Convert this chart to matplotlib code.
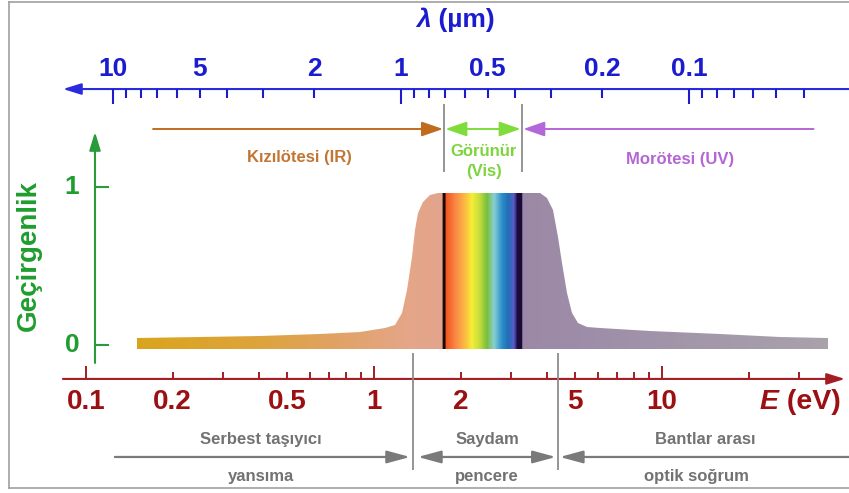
"""
Geçirgenlik - foton enerjisi şeması (E ve lambda eksenli)
"""

import numpy as np
import matplotlib.pyplot as plt
from matplotlib.patches import FancyArrowPatch, Polygon
from matplotlib.colors import ListedColormap, to_rgb
from matplotlib.lines import Line2D

plt.rcParams['font.family'] = ['Liberation Sans', 'DejaVu Sans']
plt.rcParams['font.weight'] = 'bold'

HC = 1.24  # eV * um

# transmittance curve
energy = [0.150, 0.249, 0.402, 0.649, 0.894, 1.092, 1.183, 1.251, 1.302, 1.355,
          1.388, 1.422, 1.480, 1.565, 1.668, 3.770, 3.988, 4.183, 4.354, 4.496,
          4.679, 4.870, 5.109, 5.491, 6.091, 9.085, 15.90, 25.69, 37.70]
transmit = [0.044, 0.051, 0.057, 0.070, 0.082, 0.108, 0.127, 0.203, 0.348, 0.557,
            0.728, 0.835, 0.905, 0.949, 0.962, 0.962, 0.930, 0.854, 0.684, 0.519,
            0.329, 0.203, 0.139, 0.114, 0.108, 0.089, 0.070, 0.051, 0.044]
fill_floor = -0.025

# fill colours along the energy axis
stop_energy = [0.150, 0.40, 0.70, 1.10, 1.30, 1.722, 1.736, 1.764, 1.78, 1.927,
               2.087, 2.189, 2.334, 2.469, 2.61, 2.783, 2.92, 3.063, 3.15, 3.266,
               3.29, 6.09, 37.7]
stop_colors = ['#d9a41c', '#dda33c', '#e0a260', '#e3a47e', '#e4a588', '#e2a48c',
               '#1a0a05', '#1a0a05', '#f25520', '#fa8a45', '#fcc040', '#f5ee35',
               '#c0dc3c', '#78be3c', '#88d0d0', '#2d8ecb', '#1e6fb5', '#5a5ac8',
               '#1a0a3a', '#1a0a3a', '#9b88a6', '#9e8ea8', '#a8a2ab']

# bottom axis, E (eV)
e_labels = [0.1, 0.2, 0.5, 1, 2, 5, 10]
e_major = [0.1, 1, 10]
e_minor = [0.2, 0.3, 0.4, 0.5, 0.6, 0.7, 0.8, 0.9,
           2, 3, 4, 5, 6, 7, 8, 9, 20, 30]

# top axis, lambda (um)
lam_labels = [10, 5, 2, 1, 0.5, 0.2, 0.1]
lam_major = [10, 1, 0.1]
lam_minor = [9, 8, 7, 6, 5, 4, 3, 2,
             0.9, 0.8, 0.7, 0.6, 0.5, 0.4, 0.3, 0.2,
             0.09, 0.08, 0.07, 0.06, 0.05, 0.04]

vis_edges = [1.75, 3.26]       # eV
regime_edges = [1.366, 4.35]   # eV

BLUE = '#1c1ccf'
RED = '#9c0f12'
GREEN = '#1f9d2e'
GRAY = '#727272'


def arrow(ax, p0, p1, color, style='-|>', hl=12, hw=4.5, lw=1.6):
    ax.add_patch(FancyArrowPatch(p0, p1, arrowstyle=f'{style},head_length={hl},head_width={hw}',
                                 color=color, lw=lw, mutation_scale=1,
                                 shrinkA=0, shrinkB=0, clip_on=False))


fig = plt.figure(figsize=(8.49, 4.93), dpi=100)
ax = fig.add_axes([0, 0, 1, 1])
ax.set_xscale('log')
ax.set_xlim(0.0503, 44.6)
ax.set_ylim(-0.937, 2.1835)
ax.axis('off')

# gradient filled transmittance curve
outline = Polygon(list(zip(energy, transmit)) + [(energy[-1], fill_floor), (energy[0], fill_floor)],
                  closed=True, facecolor='none', edgecolor='none', transform=ax.transData)
ax.add_patch(outline)
xe = np.geomspace(energy[0], energy[-1], 1800)
xc = np.sqrt(xe[:-1] * xe[1:])
rgb = np.array([to_rgb(c) for c in stop_colors])
cols = np.stack([np.interp(np.log10(xc), np.log10(stop_energy), rgb[:, k]) for k in range(3)], axis=-1)
mesh = ax.pcolormesh(xe, [fill_floor, 1.0], np.arange(len(xc))[np.newaxis, :],
                     cmap=ListedColormap(cols), vmin=-0.5, vmax=len(xc) - 0.5, shading='flat')
mesh.set_clip_path(outline)

# top lambda axis
lam_y = 1.62
arrow(ax, (44.6, lam_y), (0.0832, lam_y), '#2a2ade', hl=11, hw=3.4, lw=1.5)
ax.vlines([HC / l for l in lam_major], lam_y - 0.095, lam_y, color=BLUE, lw=1.5)
ax.vlines([HC / l for l in lam_minor], lam_y - 0.057, lam_y, color=BLUE, lw=1.5)
for l in lam_labels:
    ax.text(HC / l, 1.747, f'{l:g}', color=BLUE, fontsize=19, ha='center', va='center')
ax.text(1.577, 2.06, 'λ', color=BLUE, fontsize=19, style='italic', ha='right', va='center')
ax.text(1.577, 2.06, ' (µm)', color=BLUE, fontsize=19, ha='left', va='center')

# spectral regions
ax.vlines(vis_edges, 1.095, 1.525, color='#8c8c8c', lw=1.3)
arrow(ax, (0.171, 1.367), (1.736, 1.367), '#c06c1e', hl=13, hw=4.5, lw=1.4)
arrow(ax, (1.77, 1.367), (3.23, 1.367), '#7fdc3a', style='<|-|>', hl=13, hw=4.5, lw=1.4)
arrow(ax, (33.6, 1.367), (3.30, 1.367), '#b467d8', hl=13, hw=4.5, lw=1.4)
ax.text(0.553, 1.184, 'Kızılötesi (IR)', color='#c27634', fontsize=12, ha='center', va='center')
ax.text(2.41, 1.161, 'Görünür\n(Vis)', color='#7dd43e', fontsize=12, ha='center', va='center',
        linespacing=1.38)
ax.text(11.55, 1.171, 'Morötesi (UV)', color='#b466d4', fontsize=12, ha='center', va='center')

# transmittance axis
arrow(ax, (0.1075, -0.114), (0.1075, 1.348), '#2a9a3a', hl=11, hw=3.4, lw=1.5)
for t in [0, 1]:
    ax.plot([0.1075, 0.1193], [t, t], color='#2a9a3a', lw=1.5)
    ax.text(0.0894, t, str(t), color=GREEN, fontsize=19, ha='center', va='center')
ax.text(0.0634, 0.566, 'Geçirgenlik', color=GREEN, fontsize=20, rotation=90,
        ha='center', va='center')

# bottom E axis
e_y = -0.215
arrow(ax, (0.0832, e_y), (43.2, e_y), '#a31d22', hl=11, hw=3.4, lw=1.5)
ax.vlines(e_major, e_y, e_y + 0.082, color='#a31d22', lw=1.4)
ax.vlines(e_minor, e_y, e_y + 0.044, color='#a31d22', lw=1.4)
for e in e_labels:
    ax.text(e, -0.361, f'{e:g}', color=RED, fontsize=20, ha='center', va='center')
ax.text(25.48, -0.361, 'E', color=RED, fontsize=20.5, style='italic', ha='right', va='center')
ax.text(25.48, -0.361, ' (eV)', color=RED, fontsize=20.5, ha='left', va='center')

# optical regimes
ax.vlines(regime_edges, -0.791, -0.051, color='#8c8c8c', lw=1.3)
arrow(ax, (0.126, -0.709), (1.334, -0.709), '#7a7a7a', hl=14, hw=3.8, lw=1.6)
arrow(ax, (1.421, -0.709), (4.28, -0.709), '#7a7a7a', style='<|-|>', hl=14, hw=3.8, lw=1.6)
arrow(ax, (44.6, -0.709), (4.42, -0.709), '#7a7a7a', hl=14, hw=3.8, lw=1.6)
ax.text(0.405, -0.601, 'Serbest taşıyıcı', color=GRAY, fontsize=12, ha='center', va='center')
ax.text(0.405, -0.835, 'yansıma', color=GRAY, fontsize=12, ha='center', va='center')
ax.text(2.47, -0.601, 'Saydam', color=GRAY, fontsize=12, ha='center', va='center')
ax.text(2.47, -0.835, 'pencere', color=GRAY, fontsize=12, ha='center', va='center')
ax.text(14.1, -0.601, 'Bantlar arası', color=GRAY, fontsize=12, ha='center', va='center')
ax.text(13.2, -0.835, 'optik soğrum', color=GRAY, fontsize=12, ha='center', va='center')

# picture frame
for xs, ys in [([0.0106, 1.0], [0.996, 0.996]), ([0.0106, 0.0106], [0.0101, 0.996]),
               ([0.0106, 1.0], [0.0101, 0.0101])]:
    fig.add_artist(Line2D(xs, ys, color='#a0a0a0', lw=1.2, transform=fig.transFigure))

fig.savefig('out.png', dpi=100)
